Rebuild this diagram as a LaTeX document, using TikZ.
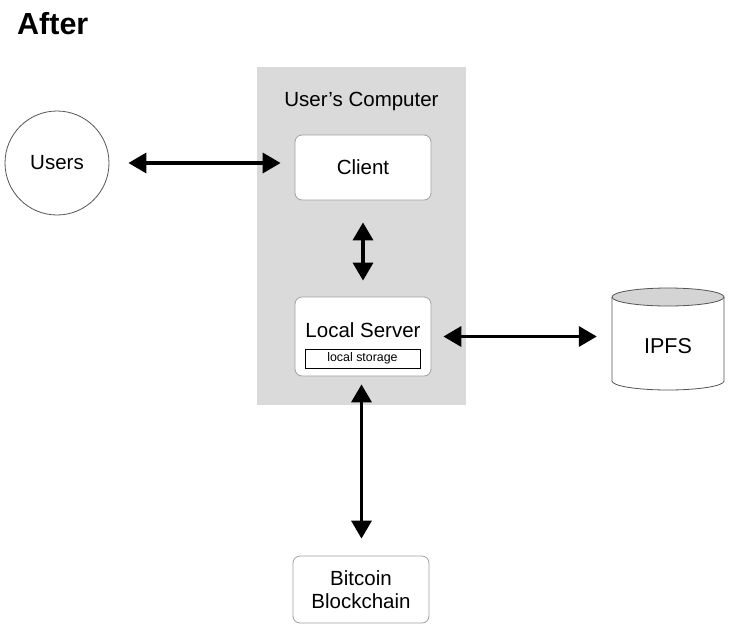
\documentclass[tikz,border=0pt]{standalone}
\usepackage{fontspec}
\setmainfont{Liberation Sans}
\usetikzlibrary{arrows.meta,calc}
\definecolor{panel}{HTML}{DADADA}
\definecolor{boxline}{HTML}{A0A0A0}
\definecolor{darkline}{HTML}{555555}
\definecolor{capfill}{HTML}{D4D4D4}
\begin{document}
\begin{tikzpicture}[x=1pt,y=-1pt,
  lbl/.style={font=\fontsize{20.5}{24}\selectfont, inner sep=0pt},
  rbox/.style={draw=boxline, line width=0.8pt, fill=white, rounded corners=7pt, inner sep=0pt},
  link/.style={line width=3.5pt, {Triangle[length=18pt,width=20pt]}-{Triangle[length=18pt,width=20pt]}}
]
\useasboundingbox (0,0) rectangle (745,638);
\node[font=\bfseries\fontsize{30.5}{34}\selectfont, anchor=west, inner sep=0pt] (title) at (17,24) {After};
% panel
\fill[panel] (257,67) rectangle (466,405);
\node[inner sep=0pt, font=\fontsize{20.5}{24}\selectfont] (uc) at (361.5,101) {User’s Computer};
% users
\node[draw=darkline, line width=0.8pt, circle, minimum size=104pt, inner sep=0pt, lbl] (users) at (57,163) {Users};
% client
\node[rbox, minimum width=136pt, minimum height=65pt, lbl] (client) at (363,167.5) {Client};
% local server
\node[rbox, minimum width=136pt, minimum height=79pt] (local) at (363,336.5) {};
\node[lbl] (lstext) at (363,330) {Local Server};
\node[draw=black, line width=0.8pt, fill=white, minimum width=115pt, minimum height=19pt, inner sep=0pt, font=\fontsize{12.4}{14}\selectfont] (storage) at (362.5,358.5) {local storage};
% blockchain
\node[rbox, minimum width=136pt, minimum height=67pt, align=center, font=\fontsize{20.5}{22.5}\selectfont] (chain) at (361,589.5) {Bitcoin\\Blockchain};
% IPFS cylinder
\fill[white] (612,297) -- (612,381) arc[start angle=180, end angle=0, x radius=56, y radius=9] -- (724,297) -- cycle;
\draw[darkline, line width=0.8pt] (612,297) -- (612,381) arc[start angle=180, end angle=0, x radius=56, y radius=9] -- (724,297);
\draw[darkline, line width=0.8pt, fill=capfill] (668,297) ellipse[x radius=56, y radius=9];
\node[minimum width=112pt, minimum height=102pt, inner sep=0pt, font=\fontsize{21.5}{25}\selectfont] (ipfs) at (668,346) {IPFS};
% connectors
\draw[link, shorten <=19pt, shorten >=14pt] (users.east) -- (users.east -| client.west);
\draw[link, shorten <=22pt, shorten >=16pt] (client.south) -- (local.north);
\draw[link, shorten <=12pt, shorten >=15pt] (local.east) -- (ipfs.west |- local.east);
\draw[link, shorten <=8pt, shorten >=17pt] ($(local.south)+(-1.5,0)$) -- ($(chain.north)+(0.5,0)$);
\end{tikzpicture}
\end{document}
